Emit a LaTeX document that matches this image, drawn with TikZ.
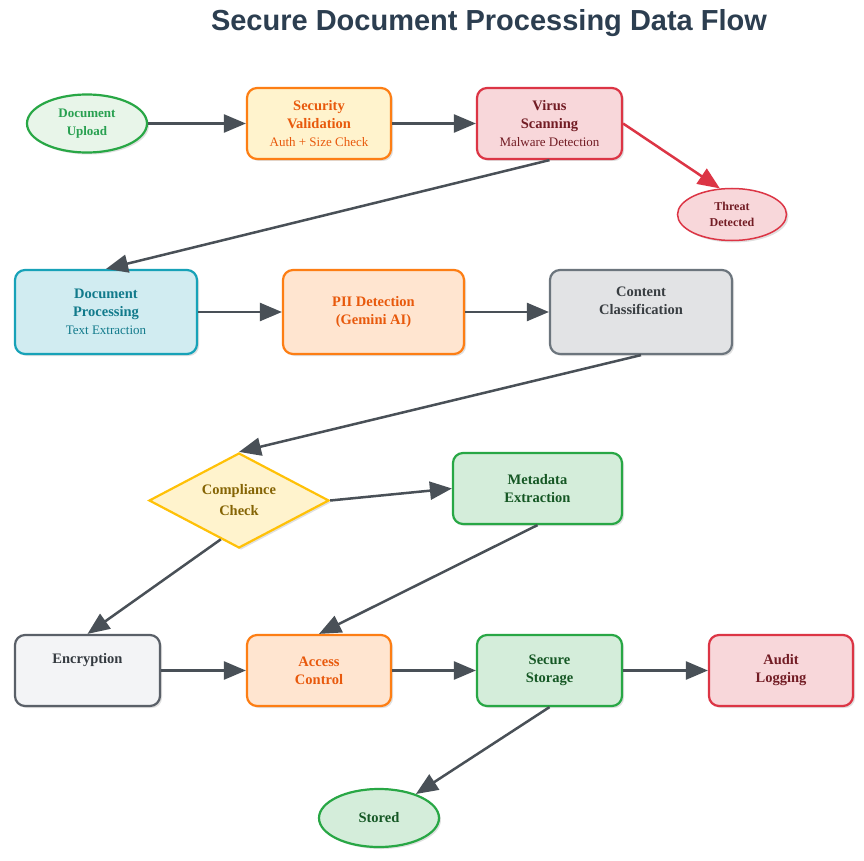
\documentclass[tikz,border=0pt]{standalone}
\usepackage{fontspec}
\setmainfont{Liberation Serif}
\newfontfamily\titlefont{Liberation Sans}
\usetikzlibrary{arrows.meta,shapes.geometric,shadows,calc}
\definecolor{edgegray}{HTML}{495057}
\definecolor{titlecol}{HTML}{2C3E50}
\definecolor{gStroke}{HTML}{28A745}
\definecolor{gFill}{HTML}{D4EDDA}
\definecolor{gFillL}{HTML}{E8F5E9}
\definecolor{gText}{HTML}{155724}
\definecolor{gTextL}{HTML}{28A050}
\definecolor{oStroke}{HTML}{FD7E14}
\definecolor{oText}{HTML}{E8590C}
\definecolor{yFill}{HTML}{FFF3CD}
\definecolor{oFill}{HTML}{FFE5D0}
\definecolor{rStroke}{HTML}{DC3545}
\definecolor{rFill}{HTML}{F8D7DA}
\definecolor{rText}{HTML}{721C24}
\definecolor{cStroke}{HTML}{17A2B8}
\definecolor{cFill}{HTML}{D1ECF1}
\definecolor{cText}{HTML}{117A8B}
\definecolor{grStroke}{HTML}{6C757D}
\definecolor{grFill}{HTML}{E2E3E5}
\definecolor{grText}{HTML}{383D41}
\definecolor{ySt}{HTML}{FFC107}
\definecolor{yText}{HTML}{856404}
\definecolor{eStroke}{HTML}{5A6068}
\definecolor{eFill}{HTML}{F3F4F6}
\definecolor{eText}{HTML}{343A40}
\newcommand{\mainf}{\fontsize{14.5}{18}\selectfont\bfseries}
\newcommand{\subf}{\fontsize{13}{19}\selectfont\mdseries}
\tikzset{
  shadowed/.style={drop shadow={shadow xshift=2pt,shadow yshift=-2pt,opacity=0.12,fill=black}},
  box/.style={draw, rounded corners=10pt, line width=2.2pt, align=center, inner sep=2pt, shadowed, font=\mainf},
  oval/.style={draw, ellipse, line width=2.2pt, align=center, inner sep=0pt, shadowed},
  flow/.style={draw=edgegray, line width=2.5pt, -{Triangle[length=22pt,width=18pt]}},
}
\begin{document}
\begin{tikzpicture}[x=1pt,y=-1pt]
\useasboundingbox[fill=white] (0,0) rectangle (864,861);
\node[font=\titlefont\bfseries\fontsize{29}{33}\selectfont, text=titlecol] (title) at (489,23) {Secure Document Processing Data Flow};

\node[oval, draw=gStroke, fill=gFillL, text=gTextL, minimum width=120, minimum height=58, font=\fontsize{13}{18}\selectfont\bfseries] (up) at (87,123.5) {Document\\Upload};
\node[box, draw=oStroke, fill=yFill, text=oText, minimum width=144, minimum height=71] (sec) at (319,123.5) {Security\\Validation\\\subf Auth + Size Check};
\node[box, draw=rStroke, fill=rFill, text=rText, minimum width=145, minimum height=71] (vir) at (549.5,123.5) {Virus\\Scanning\\\subf Malware Detection};
\node[oval, draw=rStroke, fill=rFill, text=rText, line width=1.5pt, minimum width=109, minimum height=52, font=\fontsize{12}{16}\selectfont\bfseries] (thr) at (732,214.5) {Threat\\Detected};

\node[box, draw=cStroke, fill=cFill, text=cText, minimum width=182, minimum height=84] (doc) at (106,312) {Document\\Processing\\\subf Text Extraction};
\node[box, draw=oStroke, fill=oFill, text=oText, minimum width=181, minimum height=84] (pii) at (373.5,312) {PII Detection\\(Gemini AI)};
\node[box, draw=grStroke, fill=grFill, text=grText, minimum width=182, minimum height=84] (con) at (641,312) {Content\\Classification\\\strut};

\node[diamond, shape aspect=2, draw=ySt, fill=yFill, text=yText, line width=2.2pt, shadowed, minimum width=180, minimum height=95, inner sep=0pt, align=center, font=\fontsize{14.5}{21}\selectfont\bfseries] (comp) at (239,500.5) {Compliance\\Check};
\node[box, draw=gStroke, fill=gFill, text=gText, minimum width=169, minimum height=71] (meta) at (537.5,488.5) {Metadata\\Extraction};

\node[box, draw=eStroke, fill=eFill, text=eText, minimum width=145, minimum height=71] (enc) at (87.5,670.5) {Encryption\\\strut};
\node[box, draw=oStroke, fill=oFill, text=oText, minimum width=144, minimum height=71] (acc) at (319,670.5) {Access\\Control};
\node[box, draw=gStroke, fill=gFill, text=gText, minimum width=145, minimum height=71] (stor) at (549.5,670.5) {Secure\\Storage};
\node[box, draw=rStroke, fill=rFill, text=rText, minimum width=144, minimum height=71] (aud) at (781,670.5) {Audit\\Logging};

\node[oval, draw=gStroke, fill=gFill, text=gText, minimum width=120, minimum height=58, font=\mainf] (stored) at (379,818) {Stored};

\coordinate (compout) at ($(comp.south)!0.2!(comp.west)$);

\draw[flow] (up.east) -- (sec.west);
\draw[flow] (sec.east) -- (vir.west);
\draw[flow, draw=rStroke] (vir.east) -- (thr.115);
\draw[flow] (vir.south) -- (doc.north);
\draw[flow] (doc.east) -- (pii.west);
\draw[flow] (pii.east) -- (con.west);
\draw[flow] (con.south) -- (comp.north);
\draw[flow] (comp.east) -- (meta.west);
\draw[flow] (compout) -- (enc.north);
\draw[flow] (meta.south) -- (acc.north);
\draw[flow] (enc.east) -- (acc.west);
\draw[flow] (acc.east) -- (stor.west);
\draw[flow] (stor.east) -- (aud.west);
\draw[flow] (stor.south) -- (stored);
\end{tikzpicture}
\end{document}
